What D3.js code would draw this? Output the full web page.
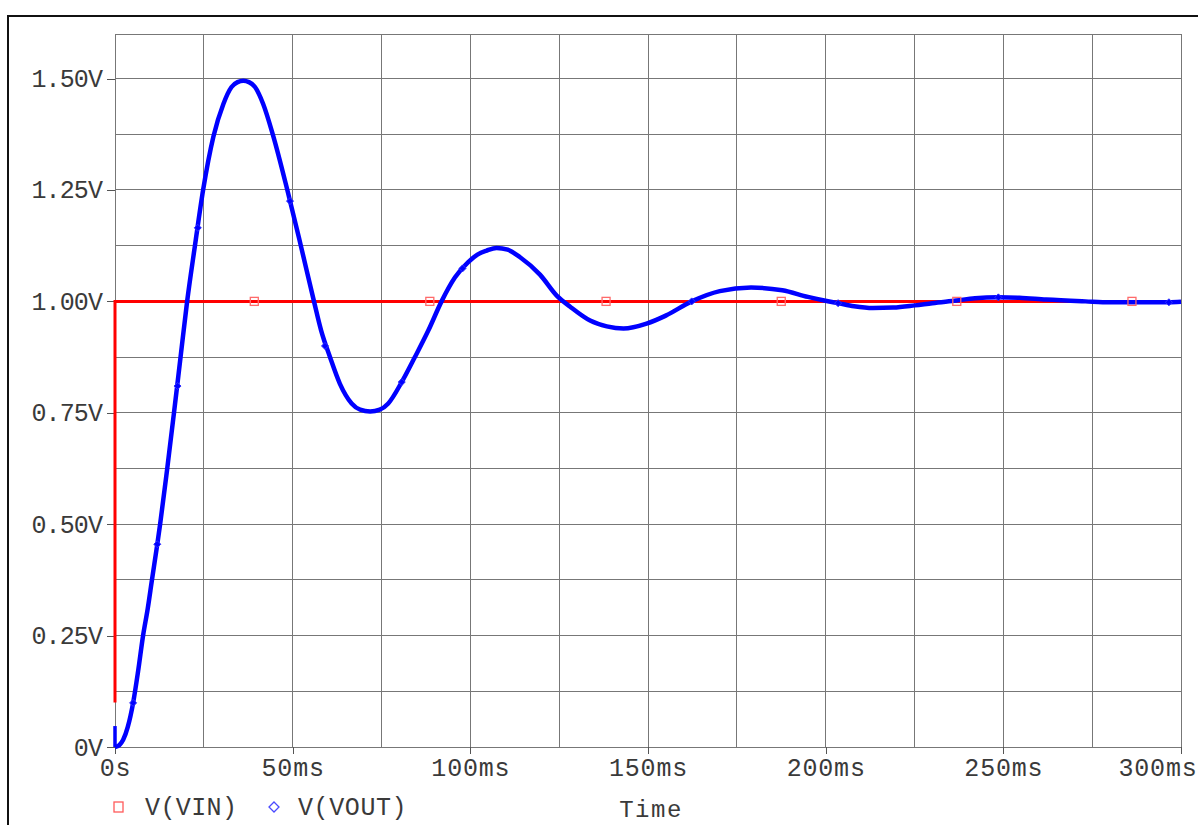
<!DOCTYPE html>
<html><head><meta charset="utf-8">
<script src="https://cdn.jsdelivr.net/npm/d3@7"></script>
<style>
html,body{margin:0;padding:0;background:#fff;}
svg{display:block;}
text{font-family:"Liberation Mono","Courier New",monospace;fill:#3a3a3a;}
</style></head>
<body>
<svg id="chart" width="1198" height="825"></svg>
<script>
// ---- data ----
const yTickValues = [0, 0.25, 0.5, 0.75, 1.0, 1.25, 1.5];
const yTickLabels = ["0V", "0.25V", "0.50V", "0.75V", "1.00V", "1.25V", "1.50V"];
const xTickValues = [0, 50, 100, 150, 200, 250, 300];
const xTickLabels = ["0s", "50ms", "100ms", "150ms", "200ms", "250ms", "300ms"];
const legendLabels = ["V(VIN)", "V(VOUT)"];
const xTitle = "Time";

const vinT = [0, 0, 300];
const vinV = [0.1, 1.0, 1.0];
const vinMarkT = [39.2, 88.6, 138.2, 187.5, 236.9, 286.2];
const vinMarkV = [1, 1, 1, 1, 1, 1];

const voutStubT = [0, 0];
const voutStubV = [0.047, 0];

const voutT = [0, 1.2, 2.3, 3.6, 5.1, 6.5, 7.9, 9.2, 10.4, 11.9, 12.7, 14.7, 16.6, 18.45, 20.3, 22.5, 24.8, 27.7, 30.5, 32.8, 34.5, 36.1, 37.7, 39.4, 41.7, 44.4, 48.5, 52.3, 56.0, 58.0, 60.5, 63.3, 66.6, 69.0, 71.8, 74.5, 76.9, 80.7, 84.4, 88.2, 91.9, 95.7, 99.4, 102.0, 104.6, 107.4, 110.5, 114.0, 119.6, 124.3, 128.1, 133.7, 138.4, 143.1, 149.6, 155.0, 162.3, 170.2, 179.0, 187.8, 195.0, 199.6, 203.5, 208.0, 213.3, 219.0, 225.1, 230.0, 236.8, 242.0, 248.6, 254.5, 262.0, 273.1, 280.0, 287.8, 296.6, 300];
const voutV = [0, 0.004, 0.016, 0.045, 0.099, 0.17, 0.25, 0.31, 0.375, 0.455, 0.5, 0.625, 0.75, 0.875, 1.0, 1.125, 1.25, 1.37, 1.443, 1.481, 1.492, 1.495, 1.492, 1.481, 1.443, 1.375, 1.25, 1.125, 1.0, 0.935, 0.875, 0.815, 0.771, 0.757, 0.753, 0.757, 0.771, 0.819, 0.875, 0.935, 1.0, 1.054, 1.088, 1.105, 1.114, 1.12, 1.116, 1.099, 1.06, 1.013, 0.988, 0.957, 0.944, 0.939, 0.95, 0.968, 1.0, 1.023, 1.031, 1.025, 1.01, 1.002, 0.996, 0.989, 0.985, 0.986, 0.991, 0.996, 1.002, 1.007, 1.009, 1.008, 1.004, 1.0, 0.998, 0.998, 0.998, 0.999];
const voutMarkT = [5.1, 11.9, 17.6, 23.3, 49.25, 59.1, 80.7, 97.8, 162.3, 203.5, 248.6, 296.6];
const voutMarkV = [0.099, 0.455, 0.81, 1.165, 1.225, 0.9, 0.819, 1.074, 1.0, 0.996, 1.009, 0.998];

// ---- layout ----
const svg = d3.select("#chart");
const L = 115, R = 1181, T = 34, B = 747;
const x = d3.scaleLinear().domain([0, 300]).range([L, R]);
const y = d3.scaleLinear().domain([0, 1.6]).range([B, T]);

// outer frame
svg.append("path").attr("d", `M8,826 L8,16 L1200,16`).attr("fill", "none")
  .attr("stroke", "#111").attr("stroke-width", 2);

// grid
const g = svg.append("g");
d3.range(0, 300.1, 25).forEach(v => {
  g.append("line").attr("x1", x(v)).attr("x2", x(v)).attr("y1", y(1.6)).attr("y2", y(0))
    .attr("stroke", "#777").attr("stroke-width", 1).attr("shape-rendering", "crispEdges");
});
d3.range(0, 1.6001, 0.125).concat([1.6]).forEach(v => {
  g.append("line").attr("x1", x(0)).attr("x2", x(300)).attr("y1", y(v)).attr("y2", y(v))
    .attr("stroke", "#777").attr("stroke-width", 1).attr("shape-rendering", "crispEdges");
});

// axes
const yAxis = d3.axisLeft(y).tickValues(yTickValues).tickSize(8).tickPadding(5)
  .tickFormat((d, i) => yTickLabels[i]);
const ya = svg.append("g").attr("transform", `translate(${L},0)`).call(yAxis);
ya.select(".domain").remove();
ya.selectAll(".tick line").attr("stroke", "#555").attr("shape-rendering", "crispEdges");
ya.selectAll(".tick text").attr("font-size", 25).attr("letter-spacing", -0.9)
  .attr("font-family", "Liberation Mono").attr("fill", "#3a3a3a");

const xAxis = d3.axisBottom(x).tickValues(xTickValues).tickSize(7).tickPadding(4)
  .tickFormat((d, i) => xTickLabels[i]);
const xa = svg.append("g").attr("transform", `translate(0,${B})`).call(xAxis);
xa.select(".domain").remove();
xa.selectAll(".tick line").attr("stroke", "#555").attr("shape-rendering", "crispEdges");
xa.selectAll(".tick text").attr("font-size", 25).attr("letter-spacing", 0.8)
  .attr("font-family", "Liberation Mono").attr("fill", "#3a3a3a").attr("dy", "0.71em");
// keep the last label inside the picture
xa.selectAll(".tick").each(function(d) {
  const t = d3.select(this).select("text");
  const w = t.node().getComputedTextLength();
  const right = x(d) + w / 2;
  if (right > 1197) t.attr("x", 1197 - right);
});

// lines
const line = d3.line().x(d => x(d[0])).y(d => y(d[1]));
const vin = vinT.map((t, i) => [t, vinV[i]]);
svg.append("path").datum(vin).attr("d", line).attr("fill", "none")
  .attr("stroke", "#ff0000").attr("stroke-width", 3);

const smooth = d3.line().x(d => x(d[0])).y(d => y(d[1])).curve(d3.curveMonotoneX);
const vout = voutT.map((t, i) => [t, voutV[i]]);
const stub = voutStubT.map((t, i) => [t, voutStubV[i]]);
svg.append("path").datum(stub).attr("d", line).attr("fill", "none")
  .attr("stroke", "#0000ff").attr("stroke-width", 3.5);
svg.append("path").datum(vout).attr("d", smooth).attr("fill", "none")
  .attr("stroke", "#0000ff").attr("stroke-width", 4.5).attr("stroke-linejoin", "round");

// markers
vinMarkT.forEach((t, i) => {
  svg.append("rect").attr("x", x(t) - 4).attr("y", y(vinMarkV[i]) - 4)
    .attr("width", 8).attr("height", 8).attr("fill", "none")
    .attr("stroke", "#ff6a6a").attr("stroke-width", 1.3);
});
const diamond = (cx, cy, r) => `M${cx},${cy - r}L${cx + r},${cy}L${cx},${cy + r}L${cx - r},${cy}Z`;
voutMarkT.forEach((t, i) => {
  svg.append("path").attr("d", diamond(x(t), y(voutMarkV[i]), 3.5))
    .attr("fill", "#0000ff").attr("stroke", "#3030ff").attr("stroke-width", 1);
});

// legend
svg.append("rect").attr("x", 114).attr("y", 802).attr("width", 9).attr("height", 10)
  .attr("fill", "none").attr("stroke", "#ff5a5a").attr("stroke-width", 1.3);
svg.append("text").attr("x", 145).attr("y", 815).attr("font-size", 25).attr("letter-spacing", 0.4)
  .text(legendLabels[0]);
svg.append("path").attr("d", diamond(274, 807, 5)).attr("fill", "none")
  .attr("stroke", "#4a4aff").attr("stroke-width", 1.3);
svg.append("text").attr("x", 298).attr("y", 815).attr("font-size", 25).attr("letter-spacing", 0.6)
  .text(legendLabels[1]);

// x title
svg.append("text").attr("x", 651).attr("y", 817).attr("text-anchor", "middle")
  .attr("font-size", 24).attr("letter-spacing", 1.5).text(xTitle);
</script>
</body></html>
